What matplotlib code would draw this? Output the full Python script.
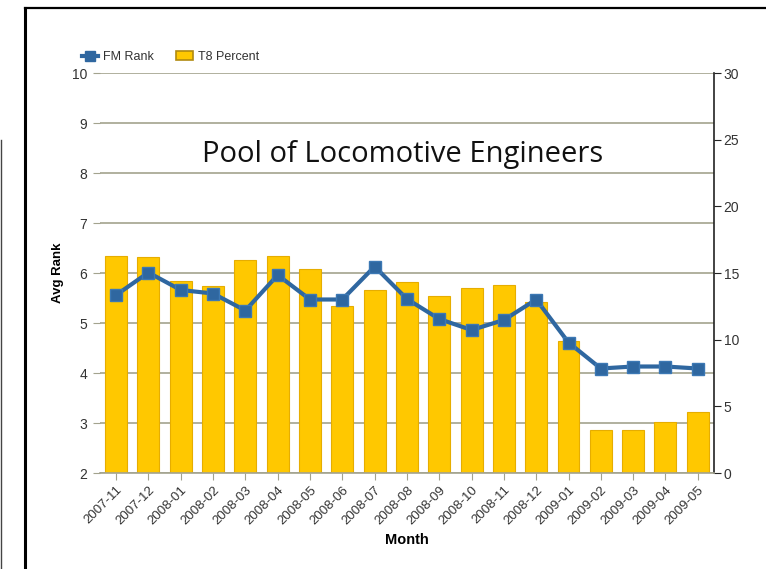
# Pool of Locomotive Engineers: FM Rank (line) vs T8 Percent (bars)

import matplotlib
matplotlib.use('Agg')
import matplotlib.pyplot as plt
from matplotlib.lines import Line2D
from matplotlib.patches import Patch
import numpy as np

months = ['2007-11', '2007-12', '2008-01', '2008-02', '2008-03', '2008-04',
          '2008-05', '2008-06', '2008-07', '2008-08', '2008-09', '2008-10',
          '2008-11', '2008-12', '2009-01', '2009-02', '2009-03', '2009-04',
          '2009-05']
fm_rank = [5.56, 6.01, 5.66, 5.59, 5.25, 5.96, 5.47, 5.47, 6.13, 5.48,
           5.08, 4.86, 5.06, 5.47, 4.61, 4.09, 4.13, 4.13, 4.09]
t8_percent = [16.3, 16.2, 14.4, 14.0, 16.0, 16.3, 15.3, 12.5, 13.7, 14.3,
              13.3, 13.9, 14.1, 12.85, 9.9, 3.2, 3.2, 3.85, 4.55]

plt.rcParams['font.family'] = ['Liberation Sans', 'DejaVu Sans']

grid_col = '#a3a38e'
bar_col = '#ffc800'
bar_edge = '#e6ad00'
line_col = '#2f67a0'
text_col = '#333333'

fig = plt.figure(figsize=(7.66, 5.69), dpi=100)
ax = fig.add_axes([0.1305, 0.1687, 0.8015, 0.703])  # bars, right axis
x = np.arange(len(months))

ax.bar(x, t8_percent, width=0.68, color=bar_col, edgecolor=bar_edge,
       linewidth=0.8, zorder=2)
ax.set_ylim(0, 30)
ax.set_xlim(-0.5, len(months) - 0.5)

ax2 = ax.twinx()  # line, left axis
ax2.plot(x, fm_rank, color=line_col, linewidth=3, marker='s',
         markersize=9, markerfacecolor=line_col, markeredgecolor='#3c78b4',
         zorder=3)
ax2.set_ylim(2, 10)
ax2.set_yticks(range(2, 11))
ax2.yaxis.set_ticks_position('left')
ax2.yaxis.set_label_position('left')
ax2.tick_params(axis='y', direction='out', length=5, color=grid_col,
                labelsize=10, labelcolor=text_col, pad=4)
for s in ax2.spines.values():
    s.set_visible(False)
ax2.set_ylabel('Avg Rank', fontsize=9.5, fontweight='bold', labelpad=6)

# right axis for the bars (set after twinx, which moves ticks left)
ax.yaxis.remove_overlapping_locs = False
ax.set_yticks(range(0, 31, 5))
ax.set_yticks(np.linspace(0, 30, 9), minor=True)  # grid follows left axis
ax.yaxis.set_ticks_position('right')
ax.yaxis.set_label_position('right')
ax.tick_params(axis='y', which='major', direction='out', length=5,
               color='#222222', labelsize=10, labelcolor=text_col, pad=2,
               left=False, labelleft=False, right=True, labelright=True)
ax.tick_params(axis='y', which='minor', length=0, left=False, right=False)
ax.grid(axis='y', which='minor', color=grid_col, linewidth=1.2, zorder=0)
ax.set_axisbelow(True)
for s in ['left', 'top']:
    ax.spines[s].set_visible(False)
ax.spines['right'].set_color('#222222')
ax.spines['right'].set_linewidth(1.2)
ax.spines['bottom'].set_color(grid_col)
ax.spines['bottom'].set_linewidth(1.2)

ax.set_xticks(x)
ax.set_xticklabels(months, rotation=45, ha='right', rotation_mode='anchor',
                   fontsize=9.5, color=text_col)
ax.tick_params(axis='x', direction='out', length=5, color=grid_col, pad=3)
ax.set_xlabel('Month', fontsize=10.5, fontweight='bold', labelpad=4)

# legend above the plot
handles = [Line2D([0], [0], color=line_col, linewidth=3, marker='s',
                  markersize=7),
           Patch(facecolor=bar_col, edgecolor='#b08a10', linewidth=1.2)]
fig.legend(handles, ['FM Rank', 'T8 Percent'], loc='center left',
           bbox_to_anchor=(0.092, 0.9), ncol=2, frameon=False, fontsize=9,
           handlelength=1.3, columnspacing=1.8, handletextpad=0.4,
           labelcolor=text_col)

fig.text(0.525, 0.729, 'Pool of Locomotive Engineers', ha='center',
         va='center', fontsize=21, family=['Open Sans', 'DejaVu Sans'],
         color='#111111')

# frame lines from the screenshot
W, H = 766, 569
fig.add_artist(Line2D([25 / W, 1], [1 - 8 / H, 1 - 8 / H], color='black',
                      linewidth=1.6, transform=fig.transFigure))
fig.add_artist(Line2D([25 / W, 25 / W], [0, 1 - 8 / H], color='black',
                      linewidth=2.2, transform=fig.transFigure))
fig.add_artist(Line2D([1.5 / W, 1.5 / W], [0, 1 - 140 / H], color='#444444',
                      linewidth=1, transform=fig.transFigure))

fig.savefig('out.png', dpi=100)
